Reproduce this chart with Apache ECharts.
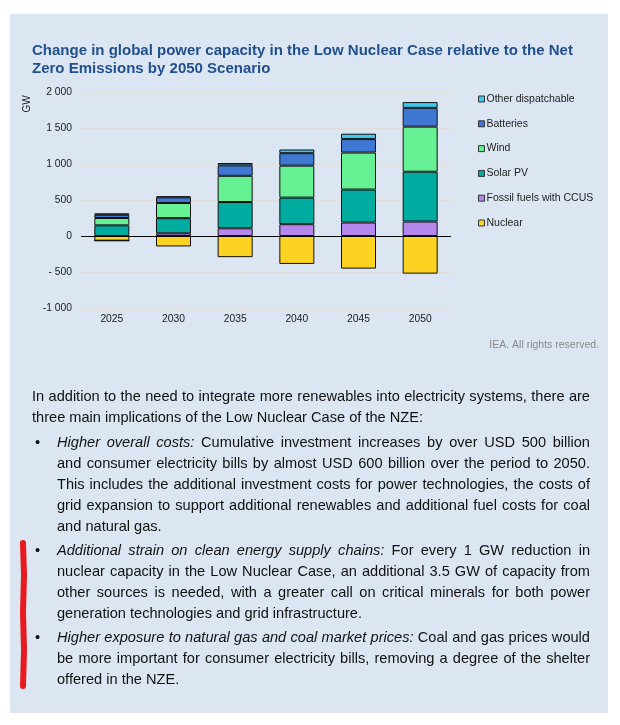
<!DOCTYPE html>
<html>
<head>
<meta charset="utf-8">
<script src="https://cdn.jsdelivr.net/npm/echarts@6/dist/echarts.min.js"></script>
<style>
  html, body { margin: 0; padding: 0; background: #fff; }
  #page { position: relative; width: 620px; height: 725px; overflow: hidden; }
  #box { position: absolute; left: 10px; top: 14px; width: 598px; height: 699px; background: #dce6f2; }
  #chart { position: absolute; left: 0; top: 0; width: 620px; height: 725px; }
  .txt { position: absolute; font-family: "Liberation Sans", Arial, sans-serif; font-size: 14.6px; line-height: 21px; color: #111; }
  .txt div { text-align: justify; text-align-last: justify; white-space: nowrap; }
  .txt div.last { text-align-last: left; }
  .bul { position: absolute; left: -22px; }
</style>
</head>
<body>
<div id="page">
  <div id="box"></div>
  <div id="chart"></div>
  <div class="txt" style="left:32px; top:386px; width:558px;">
    <div>In addition to the need to integrate more renewables into electricity systems, there are</div>
    <div class="last">three main implications of the Low Nuclear Case of the NZE:</div>
  </div>
  <div class="txt" style="left:57px; top:432px; width:533px;">
    <span class="bul">•</span>
    <div><i>Higher overall costs:</i> Cumulative investment increases by over USD 500 billion</div>
    <div>and consumer electricity bills by almost USD 600 billion over the period to 2050.</div>
    <div>This includes the additional investment costs for power technologies, the costs of</div>
    <div>grid expansion to support additional renewables and additional fuel costs for coal</div>
    <div class="last">and natural gas.</div>
  </div>
  <div class="txt" style="left:57px; top:540px; width:533px;">
    <span class="bul">•</span>
    <div><i>Additional strain on clean energy supply chains:</i> For every 1 GW reduction in</div>
    <div>nuclear capacity in the Low Nuclear Case, an additional 3.5 GW of capacity from</div>
    <div>other sources is needed, with a greater call on critical minerals for both power</div>
    <div class="last">generation technologies and grid infrastructure.</div>
  </div>
  <div class="txt" style="left:57px; top:627px; width:533px;">
    <span class="bul">•</span>
    <div><i>Higher exposure to natural gas and coal market prices:</i> Coal and gas prices would</div>
    <div>be more important for consumer electricity bills, removing a degree of the shelter</div>
    <div class="last">offered in the NZE.</div>
  </div>
</div>
<script>
// values (GW, change vs NZE)
var years = ['2025', '2030', '2035', '2040', '2045', '2050'];
var nuclear = [-65, -145, -294, -388, -453, -523];
var fossilCcus = [0, 37, 107, 164, 187, 201];
var solarPv = [148, 211, 365, 369, 458, 692];
var wind = [102, 210, 364, 444, 514, 626];
var batteries = [45, 79, 145, 173, 187, 261];
var otherDisp = [20, 14, 33, 51, 75, 80];

var yTickValues = [-1000, -500, 0, 500, 1000, 1500, 2000];
var yTickLabels = ['-1 000', '- 500', '0', '500', '1 000', '1 500', '2 000'];

var names = ['Nuclear', 'Fossil fuels with CCUS', 'Solar PV', 'Wind', 'Batteries', 'Other dispatchable'];
var colors = ['#fdd323', '#b586ec', '#00ab9f', '#66f294', '#3f78d2', '#3fc8ee'];
var values = [nuclear, fossilCcus, solarPv, wind, batteries, otherDisp];

var font = '"Liberation Sans", Arial, sans-serif';

var series = names.map(function (n, i) {
    var s = {
        name: n,
        type: 'bar',
        stack: 'cap',
        barWidth: 35,
        data: values[i],
        itemStyle: { color: colors[i], borderColor: '#111', borderWidth: 1 }
    };
    if (i === 0) {
        // the black zero line across the plot
        s.markLine = {
            silent: true,
            symbol: 'none',
            label: { show: false },
            lineStyle: { color: '#000', width: 1, type: 'solid' },
            data: [{ yAxis: 0 }]
        };
    }
    return s;
});

var myChart = echarts.init(document.getElementById('chart'));
myChart.setOption({
    animation: false,
    backgroundColor: 'transparent',
    color: colors,
    title: {
        text: 'Change in global power capacity in the Low Nuclear Case relative to the Net\nZero Emissions by 2050 Scenario',
        left: 32,
        top: 42,
        padding: 0,
        textStyle: { fontFamily: font, fontSize: 15, fontWeight: 'bold', color: '#22508c', lineHeight: 18 }
    },
    grid: { left: 81, right: 169, top: 92, bottom: 417 },
    legend: {
        orient: 'vertical',
        left: 478,
        top: 93,
        padding: 0,
        icon: 'rect',
        itemWidth: 6,
        itemHeight: 6,
        itemGap: 12.8,
        data: names.slice().reverse(),
        itemStyle: { borderColor: '#333', borderWidth: 1 },
        textStyle: { fontFamily: font, fontSize: 10.5, color: '#222', lineHeight: 12, padding: [0, 0, 0, -3] }
    },
    xAxis: {
        type: 'category',
        data: years,
        axisLine: { show: false },
        axisTick: { show: false },
        axisLabel: { fontFamily: font, fontSize: 10.3, color: '#1a1a1a', margin: 6 }
    },
    yAxis: {
        type: 'value',
        min: -1000,
        max: 2000,
        interval: 500,
        axisLine: { show: false },
        axisTick: { show: false },
        splitLine: { lineStyle: { color: '#e2ddd9', width: 1 } },
        axisLabel: {
            fontFamily: font, fontSize: 10.3, color: '#1a1a1a', margin: 9,
            formatter: function (v) {
                var k = yTickValues.indexOf(v);
                return k >= 0 ? yTickLabels[k] : '';
            }
        }
    },
    graphic: [
        {
            type: 'text', x: 27, y: 104, rotation: Math.PI / 2,
            style: { text: 'GW', fontFamily: font, fontSize: 10, fill: '#1a1a1a', textAlign: 'center', textVerticalAlign: 'middle' }
        },
        {
            type: 'text', x: 599, y: 345,
            style: { text: 'IEA. All rights reserved.', fontFamily: font, fontSize: 10.5, fill: '#8a8a8a', textAlign: 'right', textVerticalAlign: 'middle' }
        },
        {
            type: 'polyline',
            shape: { points: [[23, 543], [24, 575], [23, 612], [24, 650], [23, 686]] },
            style: { stroke: '#e51b1e', lineWidth: 6, lineCap: 'round', lineJoin: 'round', fill: null }
        }
    ],
    series: series
});
</script>
</body>
</html>
